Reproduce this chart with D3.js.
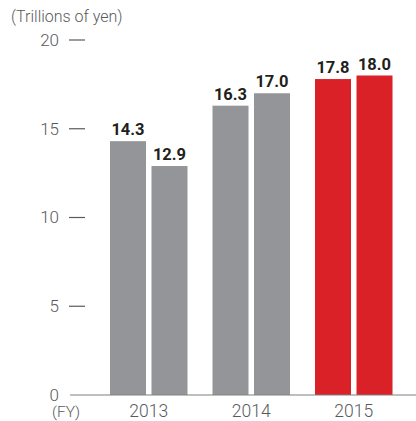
<!DOCTYPE html>
<html>
<head>
<meta charset="utf-8">
<script src="https://cdn.jsdelivr.net/npm/d3@7"></script>
<style>
  html, body { margin: 0; padding: 0; background: #fff; }
  svg { display: block; }
  text { font-family: Roboto, "Noto Sans", sans-serif; }
</style>
</head>
<body>
<svg id="chart" width="416" height="421"></svg>
<script>
// Fiscal years and the two values shown for each
const years = ["2013", "2014", "2015"];
const pairKeys = ["a", "b"];
const valuesA = [14.3, 16.3, 17.8];
const valuesB = [12.9, 17.0, 18.0];
const yTicks = [0, 5, 10, 15, 20];
const unitLabel = "(Trillions of yen)";
const fyLabel = "(FY)";

const data = years.map((y, i) => ({ year: y, a: valuesA[i], b: valuesB[i] }));

const svg = d3.select("#chart");
const width = 416, height = 421;
const margin = { top: 40, right: 0, bottom: 26, left: 70 };
const baseY = height - margin.bottom;

const x0 = d3.scaleBand()
  .domain(years)
  .range([110, 392.5])
  .paddingInner(0.244)
  .paddingOuter(0);

const x1 = d3.scaleBand()
  .domain(pairKeys)
  .range([0, x0.bandwidth()])
  .paddingInner(0.1325);

const y = d3.scaleLinear().domain([0, 20]).range([baseY, margin.top]);

const grey = "#939598";
const red = "#da2128";
const axisText = "#595a5c";

// Y axis: numbers with short dashes
const yAxis = d3.axisLeft(y).tickValues(yTicks).tickSize(0).tickPadding(11);
const yg = svg.append("g").attr("transform", `translate(${margin.left},0)`).call(yAxis);
yg.select(".domain").remove();
yg.selectAll("text")
  .attr("fill", axisText)
  .style("font-size", "17px")
  .style("font-weight", 300);

svg.append("g").selectAll("line")
  .data(yTicks.filter(t => t > 0))
  .join("line")
  .attr("x1", 69).attr("x2", 85)
  .attr("y1", d => y(d)).attr("y2", d => y(d))
  .attr("stroke", axisText).attr("stroke-width", 1.2);

// Bars
const groups = svg.append("g").selectAll("g")
  .data(data)
  .join("g")
  .attr("transform", d => `translate(${x0(d.year)},0)`);

groups.selectAll("rect")
  .data(d => pairKeys.map(k => ({ key: k, value: d[k], year: d.year })))
  .join("rect")
  .attr("x", d => x1(d.key))
  .attr("y", d => y(d.value))
  .attr("width", x1.bandwidth())
  .attr("height", d => baseY - y(d.value))
  .attr("fill", d => d.year === "2015" ? red : grey);

groups.selectAll("text.val")
  .data(d => pairKeys.map(k => ({ key: k, value: d[k] })))
  .join("text")
  .attr("class", "val")
  .attr("x", d => x1(d.key) + x1.bandwidth() / 2)
  .attr("y", d => y(d.value) - 6)
  .attr("text-anchor", "middle")
  .attr("fill", "#231f20")
  .style("font-size", "16.5px")
  .style("font-weight", 700)
  .text(d => d.value.toFixed(1));

// Baseline
svg.append("line")
  .attr("x1", margin.left).attr("x2", width)
  .attr("y1", baseY).attr("y2", baseY)
  .attr("stroke", "#7f8083").attr("stroke-width", 1.2);

// X axis labels
const xAxis = d3.axisBottom(x0).tickSize(0).tickPadding(10);
const xg = svg.append("g").attr("transform", `translate(0,${baseY})`).call(xAxis);
xg.select(".domain").remove();
xg.selectAll("text")
  .attr("fill", axisText)
  .style("font-size", "17.5px")
  .style("font-weight", 300);

svg.append("text")
  .attr("x", 52).attr("y", 417)
  .attr("fill", axisText)
  .style("font-size", "15.5px")
  .style("font-weight", 300)
  .text(fyLabel);

svg.append("text")
  .attr("x", 11).attr("y", 22)
  .attr("fill", axisText)
  .style("font-size", "16px")
  .style("font-weight", 300)
  .text(unitLabel);
</script>
</body>
</html>
